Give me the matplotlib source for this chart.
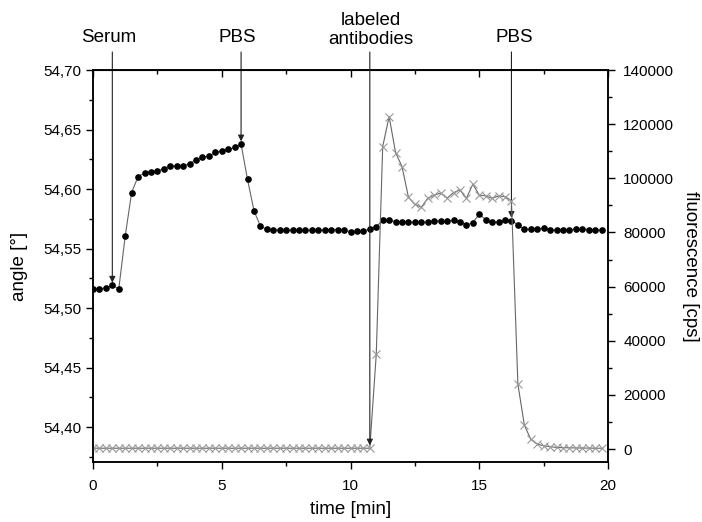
import matplotlib.pyplot as plt
import numpy as np
from matplotlib.ticker import FuncFormatter, MultipleLocator
from matplotlib.transforms import blended_transform_factory

plt.rcParams["font.family"] = ["Liberation Sans", "DejaVu Sans"]

# time grid (min), one sample every 0.25 min
time_min = np.arange(0, 80) * 0.25

# SPR angle (deg)
angle_deg = [
    54.516, 54.516, 54.517, 54.519, 54.516, 54.5605, 54.597, 54.6105,
    54.6135, 54.6144, 54.6152, 54.6172, 54.6194, 54.6192, 54.6192, 54.6214,
    54.6245, 54.6267, 54.6276, 54.6307, 54.6318, 54.6332, 54.6349, 54.6377,
    54.608, 54.5819, 54.5687, 54.5661, 54.5655, 54.5653, 54.5653, 54.5653,
    54.5653, 54.5653, 54.5653, 54.5653, 54.5655, 54.5659, 54.5659, 54.5659,
    54.5639, 54.5644, 54.565, 54.566, 54.568, 54.5743, 54.5737, 54.5726,
    54.5723, 54.5723, 54.572, 54.572, 54.5723, 54.5733, 54.5729, 54.5729,
    54.5737, 54.5726, 54.5695, 54.5718, 54.5788, 54.5743, 54.572, 54.5723,
    54.574, 54.5735, 54.5701, 54.5661, 54.5661, 54.5661, 54.5672, 54.5655,
    54.5655, 54.5655, 54.5658, 54.5661, 54.5667, 54.5658, 54.5655, 54.5655,
]

# fluorescence (cps)
fluor_cps = [
    300, 300, 300, 300, 300, 300, 300, 300, 300, 300,
    300, 300, 300, 300, 300, 300, 300, 300, 300, 300,
    300, 300, 300, 300, 300, 300, 300, 300, 300, 300,
    300, 300, 300, 300, 300, 300, 300, 300, 300, 300,
    300, 300, 300, 300, 35000, 111700, 122800, 109500, 104300, 93000,
    90400, 89300, 92600, 93700, 94600, 92700, 94700, 95700, 92600, 97800,
    93800, 93500, 92600, 93500, 93200, 91700, 24000, 8900, 3600, 1850,
    1200, 850, 600, 500, 450, 400, 350, 350, 300, 300,
]

# event markers: (label, text x, arrow target x, arrow target y, axis)
events = [
    ("Serum", 0.62, 0.75, 54.519, "angle"),
    ("PBS", 5.6, 5.75, 54.6377, "angle"),
    ("labeled\nantibodies", 10.8, 10.75, 300, "fluor"),
    ("PBS", 16.35, 16.25, 54.5735, "angle"),
]

fig = plt.figure(figsize=(7.02, 5.22), dpi=100)
ax = fig.add_axes([0.1325, 0.1149, 0.7336, 0.751])
ax2 = ax.twinx()

ax.plot(time_min, angle_deg, color="#666666", lw=0.8, marker="o",
        markersize=3.8, markerfacecolor="black", markeredgecolor="black",
        zorder=3)
ax2.plot(time_min, fluor_cps, color="#666666", lw=0.8, marker="x",
         markersize=5.2, markeredgecolor="#999999", markeredgewidth=0.8)

ax.set_xlim(0, 20)
ax.set_ylim(54.3706, 54.70)
ax2.set_ylim(-4800, 140000)

ax.xaxis.set_major_locator(MultipleLocator(5))
ax.xaxis.set_minor_locator(MultipleLocator(2.5))
ax.yaxis.set_major_locator(MultipleLocator(0.05))
ax.yaxis.set_minor_locator(MultipleLocator(0.025))
ax.yaxis.set_major_formatter(FuncFormatter(lambda v, p: f"{v:.2f}".replace(".", ",")))
ax2.yaxis.set_major_locator(MultipleLocator(20000))
ax2.yaxis.set_minor_locator(MultipleLocator(10000))
ax2.yaxis.set_major_formatter(FuncFormatter(lambda v, p: f"{v:.0f}"))

for a in (ax, ax2):
    a.tick_params(which="major", length=5, width=1.0, labelsize=11, direction="out")
    a.tick_params(which="minor", length=3, width=1.0, direction="out")
    for s in a.spines.values():
        s.set_linewidth(1.1)
ax.tick_params(axis="x", which="major", pad=7)
ax2.tick_params(axis="y", which="major", pad=6)

top = ax.secondary_xaxis("top")
top.xaxis.set_major_locator(MultipleLocator(5))
top.xaxis.set_minor_locator(MultipleLocator(2.5))
top.tick_params(which="major", direction="in", length=5, width=1.0, labeltop=False)
top.tick_params(which="minor", direction="in", length=3, width=1.0)

ax.set_xlabel("time [min]", fontsize=13.5, labelpad=6)
ax.set_ylabel("angle [°]", fontsize=13.5, labelpad=11)
ax2.set_ylabel("fluorescence [cps]", fontsize=13.5, rotation=-90, labelpad=18)

trans = blended_transform_factory(ax.transData, ax.transAxes)
for label, tx, x, y, which in events:
    target_ax = ax if which == "angle" else ax2
    ty = 1.082 if "\n" not in label else 1.102
    ax.text(tx, ty, label, transform=trans, ha="center", va="center",
            fontsize=13.5, linespacing=1.2)
    target_ax.annotate(
        "", xy=(x, y), xycoords="data",
        xytext=(x, 1.046), textcoords=("data", "axes fraction"),
        arrowprops=dict(arrowstyle="-|>", lw=0.8, color="#222222",
                        mutation_scale=9, shrinkA=0, shrinkB=2),
        annotation_clip=False,
    )

fig.savefig("out.png", dpi=100)
